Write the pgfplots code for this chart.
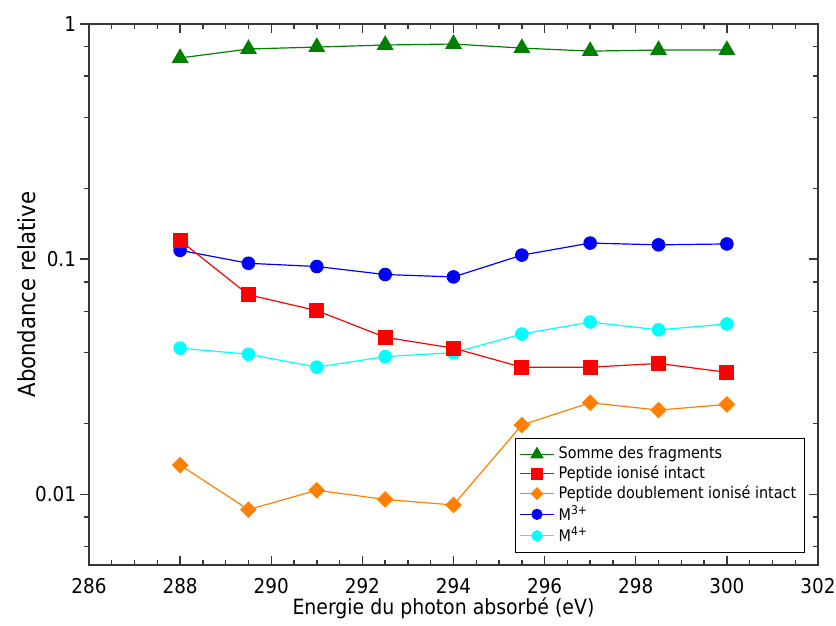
\documentclass[border=0pt]{standalone}
\usepackage{fontspec}
\setmainfont{DejaVu Sans Condensed}
\usepackage{pgfplots}
\pgfplotsset{compat=1.18}
\definecolor{cgreen}{RGB}{0,128,0}
\definecolor{cred}{RGB}{255,0,0}
\definecolor{corange}{RGB}{255,128,0}
\definecolor{cblue}{RGB}{0,0,255}
\definecolor{ccyan}{RGB}{0,255,255}
\definecolor{axgray}{RGB}{55,55,55}
\pgfplotsset{
  mybase/.style={
    scale only axis, width=364.5pt, height=270.5pt,
    xmin=286, xmax=302, ymin=0.005, ymax=1,
    xtick={286,288,...,302}, minor x tick num=3,
    ytick={0.01,0.1,1}, yticklabels={0.01,0.1,1},
    minor ytick={0.006,0.008,0.02,0.04,0.06,0.08,0.2,0.4,0.6,0.8},
    major tick length=4.5pt, minor tick length=2.5pt,
    axis line style={axgray, line width=0.8pt},
    every tick/.style={axgray, line width=0.7pt},
    /pgf/number format/assume math mode=true,
  },
  ser/.style={line width=0.6pt, mark options={solid}},
}
\begin{document}
\begin{tikzpicture}
\path[use as bounding box] (-44.5pt,-30.5pt) rectangle (373.5pt,282.5pt);
\begin{axis}[ymode=log, mybase, at={(0pt,0pt)}, anchor=south west,
  tick align=inside, xtick pos=both, ytick pos=right,
  yticklabel pos=left, xticklabel pos=left,
  yticklabel style={xshift=-3pt},
  xticklabel style={yshift=-3pt, /pgf/number format/1000 sep={}},
  tick label style={font=\fontsize{10.2}{12}\selectfont},
  xlabel={Energie du photon absorbé (eV)},
  ylabel={Abondance relative},
  xlabel style={at={([xshift=-5pt,yshift=-21.5pt]axis description cs:0.5,0)}, anchor=center, font=\fontsize{10.5}{12}\selectfont},
  ylabel style={at={([xshift=-31pt]axis description cs:0,0.5)}, anchor=center, font=\fontsize{11.8}{13}\selectfont},
  legend style={at={(rel axis cs:0.982,0.022)}, anchor=south east,
    draw=black, line width=0.6pt, font=\fontsize{8}{9.5}\selectfont,
    row sep=-2pt, inner sep=2pt},
  legend cell align=left,
  legend image code/.code={
    \draw[#1, mark repeat=2, mark phase=2] plot coordinates {(0cm,0cm) (0.3cm,0cm) (0.6cm,0cm)};},
]
\addlegendimage{ser, color=cgreen, mark=triangle*, mark size=3.3pt}
\addlegendentry{Somme des fragments}
\addlegendimage{ser, color=cred, mark=square*, mark size=2.6pt}
\addlegendentry{Peptide ionisé intact}
\addlegendimage{ser, color=corange, mark=square*, mark size=2.0pt, mark options={rotate=45}}
\addlegendentry{Peptide doublement ionisé intact}
\addlegendimage{ser, color=cblue, mark=*, mark size=2.5pt}
\addlegendentry{M\textsuperscript{3+}}
\addlegendimage{ser, color=ccyan, mark=*, mark size=2.5pt}
\addlegendentry{M\textsuperscript{4+}}

\addplot[ser, color=cgreen, mark=triangle*, mark size=4.3pt, forget plot] coordinates {
(288,0.717) (289.5,0.783) (291,0.798) (292.5,0.814) (294,0.822) (295.5,0.790) (297,0.767) (298.5,0.775) (300,0.775)};
\addplot[ser, color=corange, mark=square*, mark size=2.65pt, mark options={rotate=45}, forget plot] coordinates {
(288,0.0133) (289.5,0.0086) (291,0.0104) (292.5,0.0095) (294,0.0090) (295.5,0.0197) (297,0.0245) (298.5,0.0228) (300,0.0241)};
\addplot[ser, color=cblue, mark=*, mark size=3.1pt, forget plot] coordinates {
(288,0.109) (289.5,0.096) (291,0.093) (292.5,0.086) (294,0.084) (295.5,0.104) (297,0.117) (298.5,0.115) (300,0.116)};
\addplot[ser, color=ccyan, mark=*, mark size=3.1pt, forget plot] coordinates {
(288,0.0418) (289.5,0.0394) (291,0.0347) (292.5,0.0385) (294,0.0400) (295.5,0.0480) (297,0.0540) (298.5,0.0500) (300,0.0530)};
\addplot[ser, color=cred, mark=square*, mark size=3.4pt, forget plot] coordinates {
(288,0.120) (289.5,0.0705) (291,0.0604) (292.5,0.0465) (294,0.0418) (295.5,0.0347) (297,0.0347) (298.5,0.0360) (300,0.0330)};
\end{axis}
\begin{axis}[ymode=log, mybase, at={(0pt,0pt)}, anchor=south west, tick align=outside, xtick=\empty, ytick pos=left, yticklabels={}]
\end{axis}
\end{tikzpicture}
\end{document}
